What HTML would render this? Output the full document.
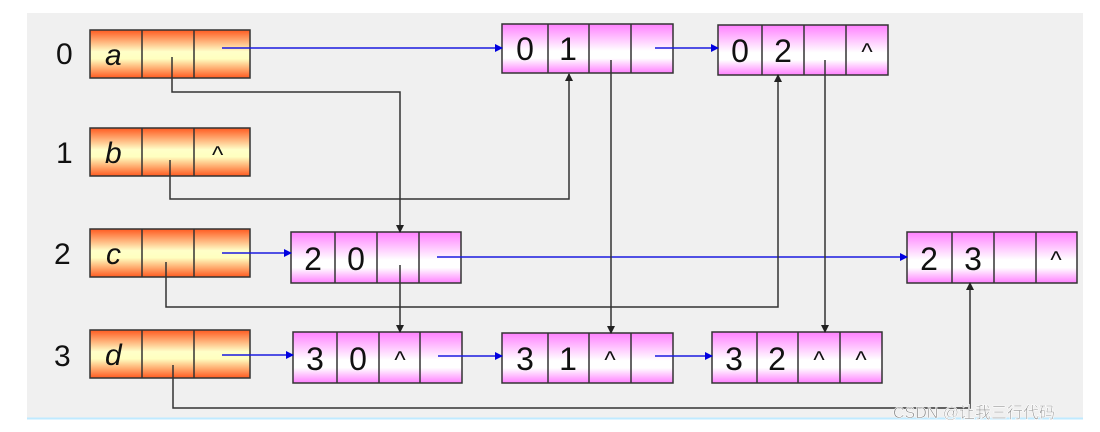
<!DOCTYPE html>
<html><head><meta charset="utf-8"><style>
html,body{margin:0;padding:0;background:#fff;}
svg{display:block;}
text{font-family:"Liberation Sans","DejaVu Sans",sans-serif;}
</style></head><body>
<svg width="1100" height="432" viewBox="0 0 1100 432" xmlns="http://www.w3.org/2000/svg">
<defs>
<linearGradient id="og" x1="0" y1="0" x2="0" y2="1">
<stop offset="0" stop-color="#ff5a20"/><stop offset="0.45" stop-color="#ffffc8"/><stop offset="0.6" stop-color="#ffffc0"/><stop offset="1" stop-color="#ff5a20"/>
</linearGradient>
<linearGradient id="pg" x1="0" y1="0" x2="0" y2="1">
<stop offset="0" stop-color="#ff80ff"/><stop offset="0.55" stop-color="#ffffff"/><stop offset="0.7" stop-color="#ffffff"/><stop offset="1" stop-color="#ff80ff"/>
</linearGradient>
<marker id="ab" markerWidth="8" markerHeight="8" refX="7" refY="4" orient="auto" markerUnits="userSpaceOnUse"><path d="M0,0 L8,4 L0,8 z" fill="#0000e0"/></marker>
<marker id="ak" markerWidth="8" markerHeight="8" refX="7" refY="4" orient="auto" markerUnits="userSpaceOnUse"><path d="M0,0 L8,4 L0,8 z" fill="#222"/></marker>
</defs>
<rect x="27" y="13" width="1056" height="405" fill="#f0f0f0"/>
<line x1="27" y1="418.5" x2="1083" y2="418.5" stroke="#bfeaff" stroke-width="2"/>

<!-- labels -->
<g font-size="30" fill="#111">
<text x="56" y="64">0</text><text x="56" y="163">1</text><text x="54" y="264">2</text><text x="54" y="366">3</text>
</g>

<!-- head nodes -->
<g stroke="#333" stroke-width="1.5" fill="url(#og)">
<rect x="90" y="30" width="160" height="48"/><line x1="142" y1="30" x2="142" y2="78"/><line x1="194" y1="30" x2="194" y2="78"/>
<rect x="90" y="128" width="160" height="48"/><line x1="142" y1="128" x2="142" y2="176"/><line x1="194" y1="128" x2="194" y2="176"/>
<rect x="90" y="229" width="160" height="48"/><line x1="142" y1="229" x2="142" y2="277"/><line x1="194" y1="229" x2="194" y2="277"/>
<rect x="90" y="330" width="160" height="48"/><line x1="142" y1="330" x2="142" y2="378"/><line x1="194" y1="330" x2="194" y2="378"/>
</g>
<g font-size="30" font-style="italic" fill="#111">
<text x="105" y="65">a</text><text x="105" y="163">b</text><text x="106" y="264">c</text><text x="105" y="365">d</text>
</g>
<text x="212" y="163" font-size="24" fill="#111">^</text>

<!-- pink nodes -->
<g stroke="#333" stroke-width="1.5" fill="url(#pg)">
<rect x="502" y="24" width="171" height="49"/><line x1="548" y1="24" x2="548" y2="73"/><line x1="589" y1="24" x2="589" y2="73"/><line x1="631" y1="24" x2="631" y2="73"/>
<rect x="718" y="25" width="170" height="50"/><line x1="762" y1="25" x2="762" y2="75"/><line x1="804" y1="25" x2="804" y2="75"/><line x1="846" y1="25" x2="846" y2="75"/>
<rect x="291" y="232" width="170" height="51"/><line x1="335" y1="232" x2="335" y2="283"/><line x1="377" y1="232" x2="377" y2="283"/><line x1="419" y1="232" x2="419" y2="283"/>
<rect x="907" y="232" width="170" height="51"/><line x1="952" y1="232" x2="952" y2="283"/><line x1="994" y1="232" x2="994" y2="283"/><line x1="1036" y1="232" x2="1036" y2="283"/>
<rect x="293" y="332" width="169" height="51"/><line x1="337" y1="332" x2="337" y2="383"/><line x1="379" y1="332" x2="379" y2="383"/><line x1="420" y1="332" x2="420" y2="383"/>
<rect x="502" y="333" width="171" height="50"/><line x1="548" y1="333" x2="548" y2="383"/><line x1="589" y1="333" x2="589" y2="383"/><line x1="631" y1="333" x2="631" y2="383"/>
<rect x="712" y="332" width="170" height="51"/><line x1="757" y1="332" x2="757" y2="383"/><line x1="798" y1="332" x2="798" y2="383"/><line x1="840" y1="332" x2="840" y2="383"/>
</g>
<g font-size="32" fill="#111" text-anchor="middle">
<text x="525" y="60">0</text><text x="568" y="60">1</text>
<text x="740" y="62">0</text><text x="783" y="62">2</text>
<text x="313" y="270">2</text><text x="356" y="270">0</text>
<text x="929" y="270">2</text><text x="973" y="270">3</text>
<text x="315" y="370">3</text><text x="358" y="370">0</text>
<text x="525" y="370">3</text><text x="568" y="370">1</text>
<text x="734" y="370">3</text><text x="777" y="370">2</text>
</g>
<g font-size="24" fill="#111" text-anchor="middle">
<text x="867" y="60">^</text>
<text x="1056" y="268">^</text>
<text x="400" y="368">^</text>
<text x="610" y="368">^</text>
<text x="819" y="368">^</text><text x="861" y="368">^</text>
</g>

<!-- blue next arrows -->
<g stroke="#1a1ae0" stroke-width="1.5" fill="none" marker-end="url(#ab)">
<line x1="222" y1="48" x2="502" y2="48"/>
<line x1="655" y1="48" x2="718" y2="48"/>
<line x1="222" y1="253" x2="291" y2="253"/>
<line x1="437" y1="257" x2="907" y2="257"/>
<line x1="222" y1="355" x2="293" y2="355"/>
<line x1="438" y1="356" x2="502" y2="356"/>
<line x1="655" y1="356" x2="712" y2="356"/>
</g>

<!-- black pointer arrows -->
<g stroke="#333" stroke-width="1.5" fill="none" marker-end="url(#ak)">
<polyline points="172,57 172,92 400,92 400,232"/>
<polyline points="170,160 170,199 569,199 569,74"/>
<polyline points="611,60 611,333"/>
<polyline points="825,60 825,332"/>
<polyline points="166,262 166,307 778,307 778,75"/>
<polyline points="400,265 400,332"/>
<polyline points="173,365 173,408 970,408 970,283"/>
</g>

<text x="893" y="418" font-size="16" fill="#888" stroke="#fff" stroke-width="0.6" font-family="Liberation Sans, Noto Sans CJK SC, sans-serif">CSDN @让我三行代码</text>
</svg>
</body></html>
